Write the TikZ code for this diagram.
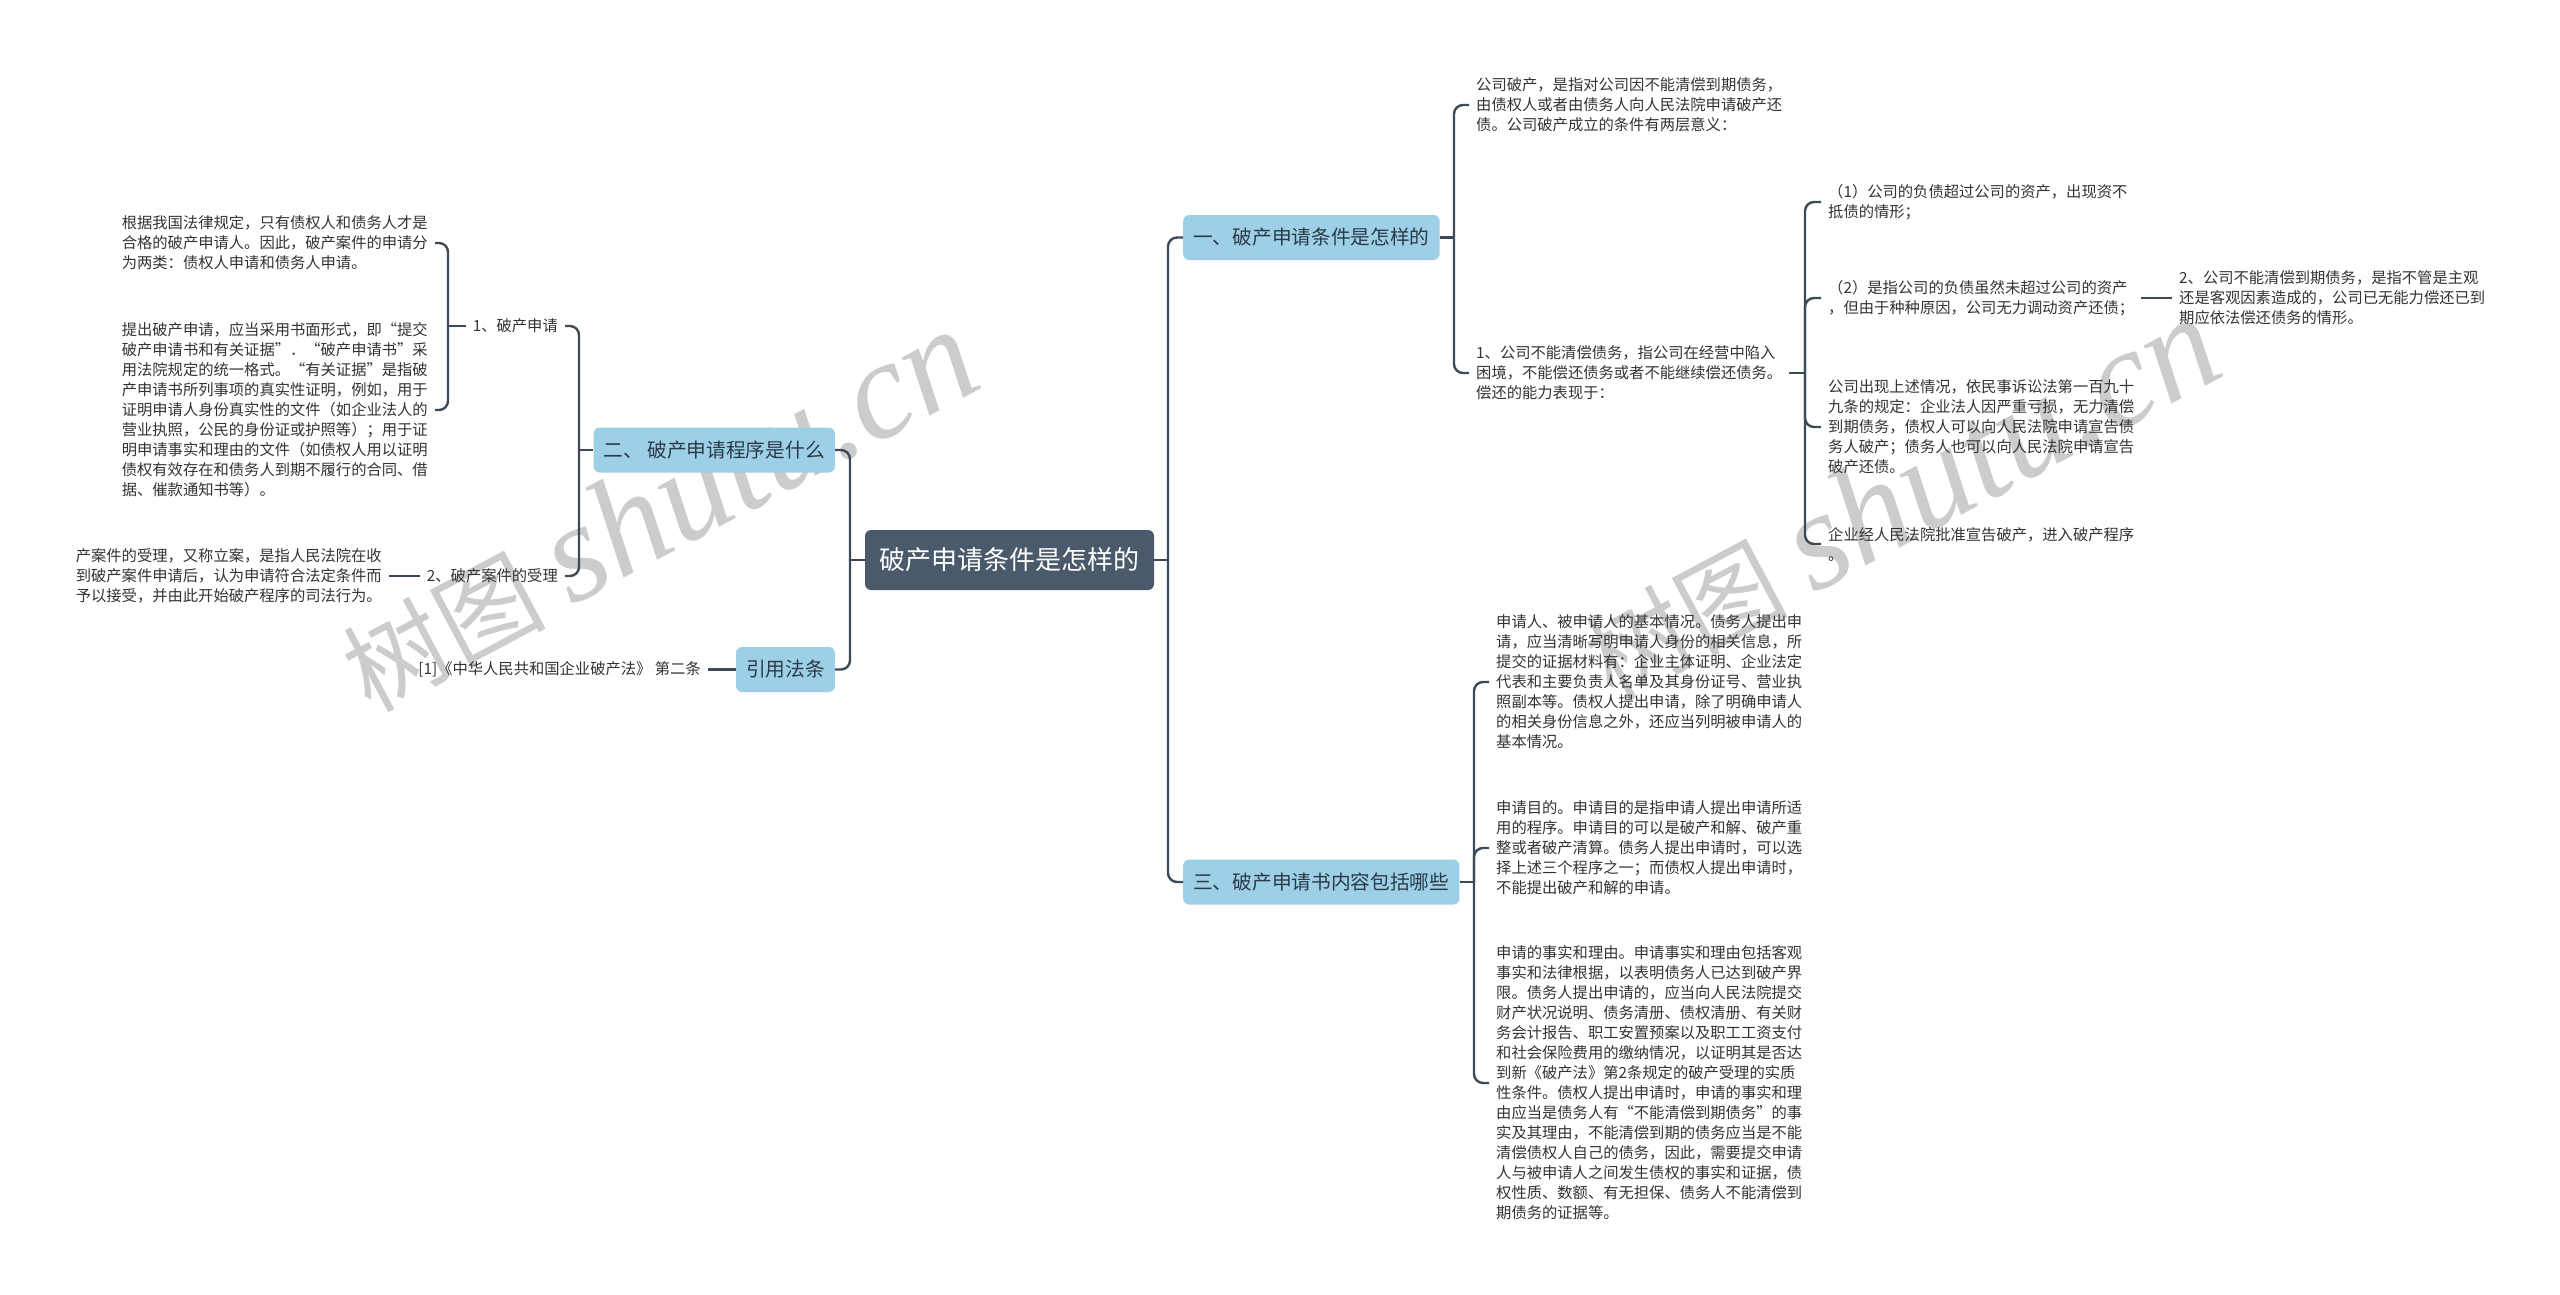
\documentclass[tikz,border=0pt]{standalone}
\usepackage{fontspec}
\setmainfont{Noto Sans CJK SC}
\newfontfamily\wmfont{Liberation Serif}
\usetikzlibrary{calc}
\definecolor{linec}{HTML}{3D4A57}
\definecolor{rootf}{HTML}{4A5A6B}
\definecolor{bluef}{HTML}{9DCFE7}
\definecolor{lvtxt}{HTML}{2B3A48}
\definecolor{txtc}{HTML}{333333}
\tikzset{
  conn/.style={draw=linec, line width=2.4pt, rounded corners=9pt},
  txt/.style={inner xsep=7pt, inner ysep=2pt, align=left, text=txtc, font=\fontsize{15.3}{20}\selectfont},
  lvone/.style={fill=bluef, rounded corners=6pt, text=lvtxt, minimum height=45pt, inner xsep=10pt, font=\fontsize{19.7}{24}\selectfont},
  rootbox/.style={fill=rootf, rounded corners=6pt, text=white, minimum width=289pt, minimum height=60pt, font=\fontsize{26}{30}\selectfont},
  wmark/.style={rotate=28, text=black!20, inner sep=0pt},
}
\begin{document}
\begin{tikzpicture}[x=1pt,y=-1pt]
\fill[white] (0,0) rectangle (2560,1295);
\useasboundingbox (0,0) rectangle (2560,1295);

% watermarks
\node[wmark] (wm1) at (658,510) {\fontsize{101}{101}\selectfont 树图\hspace{0.25em}{\wmfont\itshape\fontsize{140}{140}\selectfont shutu.cn}};
\node[wmark] (wm2) at (1900,498) {\fontsize{101}{101}\selectfont 树图\hspace{0.25em}{\wmfont\itshape\fontsize{140}{140}\selectfont shutu.cn}};

% axis x positions for junctions
\coordinate (xL) at (850,0);
\coordinate (xR) at (1168,0);
\coordinate (x2) at (579,0);
\coordinate (xp1) at (448,0);
\coordinate (x1) at (1454,0);
\coordinate (xr1b) at (1805,0);
\coordinate (x3) at (1474,0);

% root and first level
\node[rootbox] (root) at (1009.5,560) {破产申请条件是怎样的};
\node[lvone, anchor=west] (n1) at (1183,237.5) {一、破产申请条件是怎样的};
\node[lvone, anchor=west] (n3) at (1183,882) {三、破产申请书内容包括哪些};
\node[lvone, anchor=east] (n2) at (835,450) {二、 破产申请程序是什么};
\node[lvone, anchor=east] (nl) at (835,669.5) {引用法条};

% left side
\node[txt, anchor=east] (p1) at (565,326) {1、破产申请};
\node[txt, anchor=east] (p2) at (565,576) {2、破产案件的受理};
\node[txt, anchor=east] (p1a) at (435,243) {根据我国法律规定，只有债权人和债务人才是\\合格的破产申请人。因此，破产案件的申请分\\为两类：债权人申请和债务人申请。};
\node[txt, anchor=east] (p1b) at (435,410) {提出破产申请，应当采用书面形式，即“提交\\破产申请书和有关证据”．“破产申请书”采\\用法院规定的统一格式。“有关证据”是指破\\产申请书所列事项的真实性证明，例如，用于\\证明申请人身份真实性的文件（如企业法人的\\营业执照，公民的身份证或护照等）；用于证\\明申请事实和理由的文件（如债权人用以证明\\债权有效存在和债务人到期不履行的合同、借\\据、催款通知书等）。};
\node[txt, anchor=east] (p2a) at (389,576) {产案件的受理，又称立案，是指人民法院在收\\到破产案件申请后，认为申请符合法定条件而\\予以接受，并由此开始破产程序的司法行为。};
\node[txt, anchor=east] (law) at (708,669.5) {[1]《中华人民共和国企业破产法》 第二条};

% right side, branch one
\node[txt, anchor=west] (r1a) at (1469,105) {公司破产，是指对公司因不能清偿到期债务，\\由债权人或者由债务人向人民法院申请破产还\\债。公司破产成立的条件有两层意义：};
\node[txt, anchor=west] (r1b) at (1469,373) {1、公司不能清偿债务，指公司在经营中陷入\\困境，不能偿还债务或者不能继续偿还债务。\\偿还的能力表现于：};
\node[txt, anchor=west] (r2a) at (1821,202) {（1）公司的负债超过公司的资产，出现资不\\抵债的情形；};
\node[txt, anchor=west] (r2b) at (1821,298) {（2）是指公司的负债虽然未超过公司的资产\\，但由于种种原因，公司无力调动资产还债；};
\node[txt, anchor=west] (r2c) at (1821,427) {公司出现上述情况，依民事诉讼法第一百九十\\九条的规定：企业法人因严重亏损，无力清偿\\到期债务，债权人可以向人民法院申请宣告债\\务人破产；债务人也可以向人民法院申请宣告\\破产还债。};
\node[txt, anchor=west] (r2d) at (1821,544) {企业经人民法院批准宣告破产，进入破产程序\\。};
\node[txt, anchor=west] (r2b1) at (2172,298) {2、公司不能清偿到期债务，是指不管是主观\\还是客观因素造成的，公司已无能力偿还已到\\期应依法偿还债务的情形。};

% right side, branch three
\node[txt, anchor=west] (r3a) at (1489,682) {申请人、被申请人的基本情况。债务人提出申\\请，应当清晰写明申请人身份的相关信息，所\\提交的证据材料有：企业主体证明、企业法定\\代表和主要负责人名单及其身份证号、营业执\\照副本等。债权人提出申请，除了明确申请人\\的相关身份信息之外，还应当列明被申请人的\\基本情况。};
\node[txt, anchor=west] (r3b) at (1489,848) {申请目的。申请目的是指申请人提出申请所适\\用的程序。申请目的可以是破产和解、破产重\\整或者破产清算。债务人提出申请时，可以选\\择上述三个程序之一；而债权人提出申请时，\\不能提出破产和解的申请。};
\node[txt, anchor=west] (r3c) at (1489,1083) {申请的事实和理由。申请事实和理由包括客观\\事实和法律根据，以表明债务人已达到破产界\\限。债务人提出申请的，应当向人民法院提交\\财产状况说明、债务清册、债权清册、有关财\\务会计报告、职工安置预案以及职工工资支付\\和社会保险费用的缴纳情况，以证明其是否达\\到新《破产法》第2条规定的破产受理的实质\\性条件。债权人提出申请时，申请的事实和理\\由应当是债务人有“不能清偿到期债务”的事\\实及其理由，不能清偿到期的债务应当是不能\\清偿债权人自己的债务，因此，需要提交申请\\人与被申请人之间发生债权的事实和证据，债\\权性质、数额、有无担保、债务人不能清偿到\\期债务的证据等。};

% connectors: root to first level
\draw[conn] (root.west) -- (root.west -| xL) coordinate (jL);
\draw[conn] (jL) |- (n2.east);
\draw[conn] (jL) |- (nl.east);
\draw[conn] (root.east) -- (root.east -| xR) coordinate (jR);
\draw[conn] (jR) |- (n1.west);
\draw[conn] (jR) |- (n3.west);

% left branches
\draw[conn] (n2.west) -- (n2.west -| x2) coordinate (j2);
\draw[conn] (j2) |- (p1.east);
\draw[conn] (j2) |- (p2.east);
\draw[conn] (p1.west) -- (p1.west -| xp1) coordinate (jp1);
\draw[conn] (jp1) |- (p1a.east);
\draw[conn] (jp1) |- (p1b.east);
\draw[conn] (p2.west) -- (p2a.east);
\draw[conn] (nl.west) -- (law.east);

% right branches
\draw[conn] (n1.east) -- (n1.east -| x1) coordinate (j1);
\draw[conn] (j1) |- (r1a.west);
\draw[conn] (j1) |- (r1b.west);
\draw[conn] (r1b.east) -- (r1b.east -| xr1b) coordinate (jr1b);
\draw[conn] (jr1b) |- (r2a.west);
\draw[conn] (jr1b) |- (r2b.west);
\draw[conn] (jr1b) |- (r2c.west);
\draw[conn] (jr1b) |- (r2d.west);
\draw[conn] (r2b.east) -- (r2b1.west);
\draw[conn] (n3.east) -- (n3.east -| x3) coordinate (j3);
\draw[conn] (j3) |- (r3a.west);
\draw[conn] (j3) |- (r3b.west);
\draw[conn] (j3) |- (r3c.west);
\end{tikzpicture}
\end{document}
